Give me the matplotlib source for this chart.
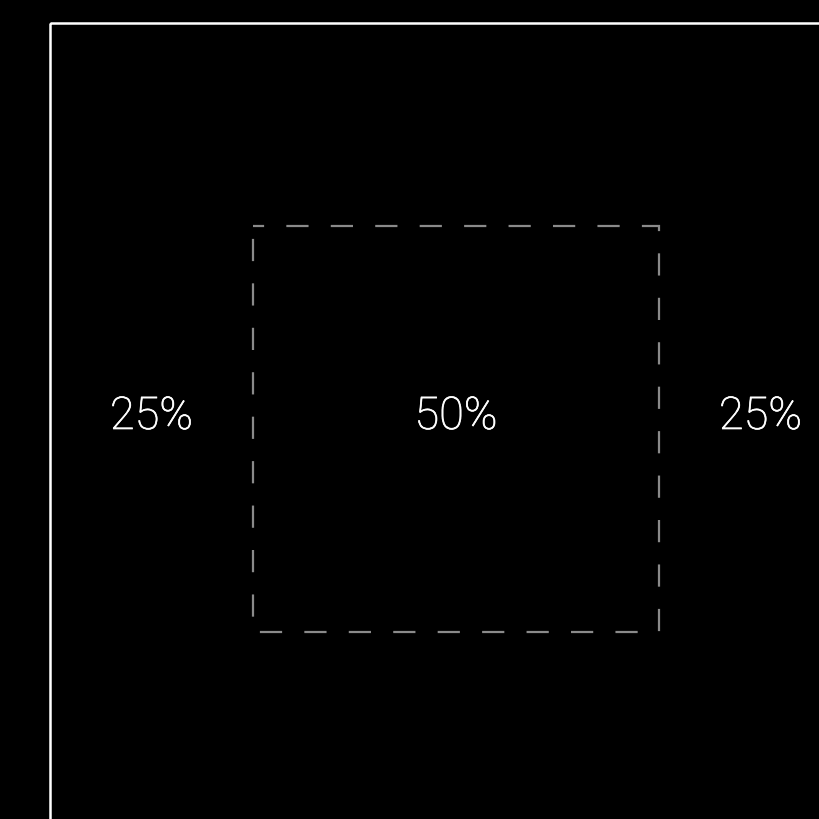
import matplotlib
matplotlib.use("Agg")
import matplotlib.pyplot as plt
import matplotlib.patheffects as pe
from matplotlib.patches import Rectangle

# Reparto horizontal del cuadro exterior
etiquetas = ["25%", "50%", "25%"]
partes = [25, 50, 25]

# Cuadro exterior en píxeles (se sale por la derecha y por abajo)
origen_x, origen_y = 50, 23
lado = 812

fig = plt.figure(figsize=(8.2, 8.19), dpi=100, facecolor="black")
ax = fig.add_axes([0, 0, 1, 1])
ax.set_xlim(0, 820)
ax.set_ylim(819, 0)
ax.set_facecolor("black")
ax.axis("off")

ax.add_patch(Rectangle((origen_x, origen_y), lado, lado, fill=False,
                       edgecolor="white", linewidth=1.8))

# Cuadro interior discontinuo: 50% centrado
margen = lado * partes[0] / 100
interior = lado * partes[1] / 100
ax.add_patch(Rectangle((origen_x + margen, origen_y + margen), interior, interior,
                       fill=False, edgecolor="#8a8a8a", linewidth=1.6,
                       linestyle=(5, (10, 10))))

centro_y = origen_y + lado / 2
acumulado = 0
for texto, p in zip(etiquetas, partes):
    cx = origen_x + lado * (acumulado + p / 2) / 100
    ax.text(cx, centro_y, texto, color="white", fontsize=32.5, family="Roboto",
            fontweight="light", ha="center", va="baseline",
            path_effects=[pe.withStroke(linewidth=0.5, foreground="white")])
    acumulado += p

fig.savefig("out.png", dpi=100, facecolor="black")
